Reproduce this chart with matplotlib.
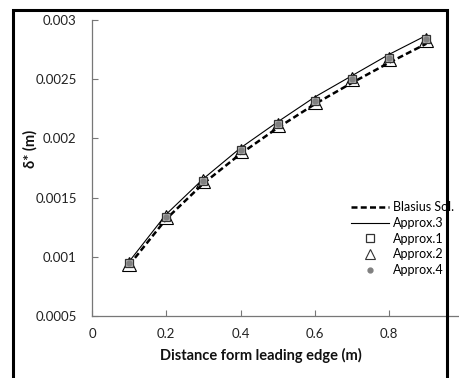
import matplotlib
matplotlib.use("Agg")
import matplotlib.pyplot as plt
from matplotlib.lines import Line2D
from matplotlib.patches import Rectangle

plt.rcParams["font.family"] = ["Lato", "DejaVu Sans"]

# Data
x = [0.1, 0.2, 0.3, 0.4, 0.5, 0.6, 0.7, 0.8, 0.9]
blasius = [0.00093, 0.00132, 0.00162, 0.00187, 0.00209, 0.00229, 0.00247, 0.00264, 0.00280]
approx3 = [0.00096, 0.00136, 0.00166, 0.00192, 0.00214, 0.00235, 0.00253, 0.00271, 0.00287]
approx1 = [0.00095, 0.00134, 0.00164, 0.00190, 0.00212, 0.00232, 0.00250, 0.00268, 0.00284]
approx2 = [0.00094, 0.00134, 0.00164, 0.00189, 0.00211, 0.00231, 0.00250, 0.00267, 0.00283]
approx4 = [0.00095, 0.00134, 0.00164, 0.00190, 0.00212, 0.00232, 0.00250, 0.00268, 0.00284]

# the tick at 1 falls outside the cropped picture
xticks = [0, 0.2, 0.4, 0.6, 0.8]
xticklabels = ["0", "0.2", "0.4", "0.6", "0.8"]
yticks = [0.0005, 0.001, 0.0015, 0.002, 0.0025, 0.003]
yticklabels = ["0.0005", "0.001", "0.0015", "0.002", "0.0025", "0.003"]

W, H = 459, 378
fig = plt.figure(figsize=(W / 100, H / 100), dpi=100)
ax = fig.add_axes([92 / W, (H - 316) / H, 371.5 / W, 296 / H])

dash = (0, (2.4, 1.3))
ax.plot(x, blasius, color="black", lw=1.8, ls=dash, zorder=3)
ax.plot(x, approx3, color="black", lw=0.8, zorder=3)
ax.plot(x, approx2, ls="none", marker="^", ms=10, mfc="white", mec="black", mew=0.8, zorder=2)
ax.plot(x, approx1, ls="none", marker="s", ms=6, mfc="#bbbbbb", mec="#333333", mew=0.9, zorder=4)
ax.plot(x, approx4, ls="none", marker="o", ms=3.5, color="#808080", zorder=5)

ax.set_xlim(0, 1)
ax.set_ylim(0.0005, 0.003)
ax.set_xticks(xticks)
ax.set_xticklabels(xticklabels)
ax.set_yticks(yticks)
ax.set_yticklabels(yticklabels)
ax.tick_params(direction="in", length=4, width=0.8, colors="#777777",
               labelcolor="#222222", labelsize=9.5, pad=9)
ax.tick_params(axis="y", pad=11)
for side in ["top", "right"]:
    ax.spines[side].set_visible(False)
for side in ["left", "bottom"]:
    ax.spines[side].set_color("#777777")
    ax.spines[side].set_linewidth(0.9)

fig.text(261 / W, 1 - 355 / H, "Distance form leading edge (m)", ha="center", va="center",
         fontsize=10.5, fontweight="bold", color="#111111")
fig.text(30 / W, 1 - 149 / H, "δ* (m)", ha="center", va="center", rotation=90,
         fontsize=10.5, fontweight="bold", color="#111111")

handles = [
    Line2D([], [], color="black", lw=1.8, ls=dash),
    Line2D([], [], color="black", lw=0.8),
    Line2D([], [], ls="none", marker="s", ms=6, mfc="white", mec="#333333", mew=0.9),
    Line2D([], [], ls="none", marker="^", ms=7, mfc="white", mec="#333333", mew=0.8),
    Line2D([], [], ls="none", marker="o", ms=3.5, color="#808080"),
]
labels = ["Blasius Sol.", "Approx.3", "Approx.1", "Approx.2", "Approx.4"]
leg = fig.legend(handles, labels, loc="upper left", bbox_to_anchor=(345 / W, 1 - 195 / H),
                 frameon=False, fontsize=9, handlelength=3.0, handletextpad=0.35,
                 labelspacing=0.3, borderpad=0)

# outer frame around the chart area
fig.patches.append(Rectangle((13 / W, -0.1), (447 - 13) / W, (H - 10) / H + 0.1,
                             transform=fig.transFigure, fill=False, ec="black",
                             lw=2.2, zorder=10))

fig.savefig("out.png", dpi=100)
